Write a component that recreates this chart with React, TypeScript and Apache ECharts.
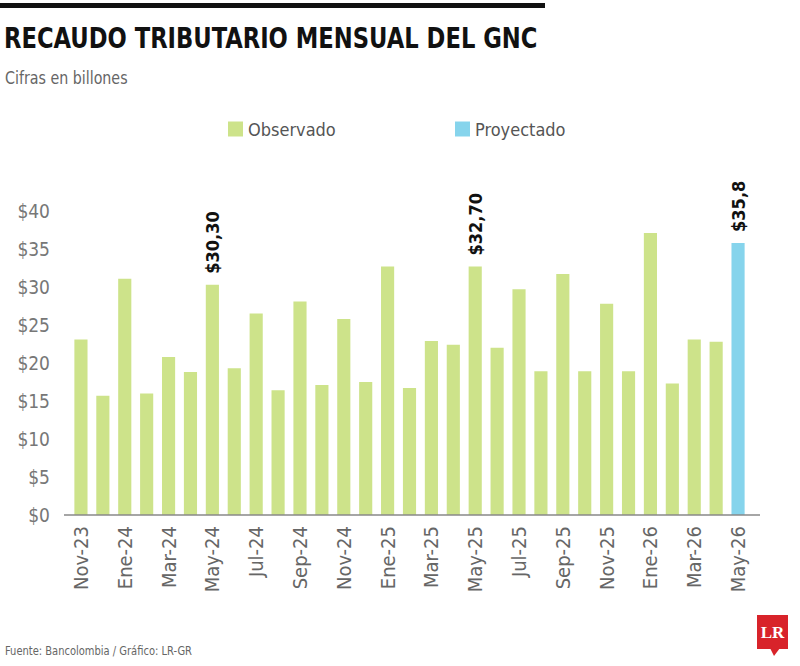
import React, { useEffect, useRef } from "react";
import * as echarts from "echarts";

const categories = [
  "Nov-23", "Dic-23", "Ene-24", "Feb-24", "Mar-24", "Abr-24", "May-24", "Jun-24",
  "Jul-24", "Ago-24", "Sep-24", "Oct-24", "Nov-24", "Dic-24", "Ene-25", "Feb-25",
  "Mar-25", "Abr-25", "May-25", "Jun-25", "Jul-25", "Ago-25", "Sep-25", "Oct-25",
  "Nov-25", "Dic-25", "Ene-26", "Feb-26", "Mar-26", "Abr-26", "May-26",
];

const observado: (number | null)[] = [
  23.1, 15.7, 31.1, 16.0, 20.8, 18.8, 30.3, 19.3,
  26.5, 16.4, 28.1, 17.1, 25.8, 17.5, 32.7, 16.7,
  22.9, 22.4, 32.7, 22.0, 29.7, 18.9, 31.7, 18.9,
  27.8, 18.9, 37.1, 17.3, 23.1, 22.8, null,
];

const proyectado: (number | null)[] = [
  null, null, null, null, null, null, null, null,
  null, null, null, null, null, null, null, null,
  null, null, null, null, null, null, null, null,
  null, null, null, null, null, null, 35.8,
];

const labeledObservado = ["May-24", "May-25"];
const labeledObservadoText = ["$30,30", "$32,70"];
const proyectadoLabel = "$35,8";

const yTicks = [0, 5, 10, 15, 20, 25, 30, 35, 40];

const FONT = '"DejaVu Sans Condensed", "Liberation Sans Narrow", sans-serif';
const GREEN = "#cde38a";
const BLUE = "#86d4ec";

export default function App() {
  const ref = useRef<HTMLDivElement>(null);

  useEffect(() => {
    if (!ref.current) return;
    const chart = echarts.init(ref.current, null, { renderer: "svg" });

    const obsData = observado.map((v, i) => {
      const li = labeledObservado.indexOf(categories[i]);
      if (li >= 0) {
        return {
          value: v,
          label: {
            show: true,
            formatter: labeledObservadoText[li],
          },
        };
      }
      return v;
    });
    const proData = proyectado.map((v) =>
      v == null ? v : { value: v, label: { show: true, formatter: proyectadoLabel } }
    );

    const barLabel = {
      show: false,
      position: "top",
      rotate: 90,
      align: "left",
      verticalAlign: "middle",
      distance: 11,
      color: "#111",
      fontFamily: FONT,
      fontWeight: "bold",
      fontSize: 18,
    };

    chart.setOption({
      animation: false,
      backgroundColor: "#ffffff",
      legend: [
        {
          data: ["Observado"],
          left: 223,
          top: 115,
          itemWidth: 15,
          itemHeight: 15,
          icon: "rect",
          itemGap: 6,
          textStyle: { fontFamily: FONT, fontSize: 18, color: "#555" },
        },
        {
          data: ["Proyectado"],
          left: 450,
          top: 115,
          itemWidth: 15,
          itemHeight: 15,
          icon: "rect",
          textStyle: { fontFamily: FONT, fontSize: 18, color: "#555" },
        },
      ],
      grid: { left: 70, right: 51, top: 211, bottom: 151, containLabel: false },
      xAxis: {
        type: "category",
        data: categories,
        axisLine: { show: false },
        axisTick: { show: false },
        axisLabel: {
          interval: 1,
          rotate: 90,
          margin: 11,
          fontFamily: FONT,
          fontSize: 20,
          color: "#666",
        },
      },
      yAxis: {
        type: "value",
        min: yTicks[0],
        max: yTicks[yTicks.length - 1],
        interval: 5,
        splitLine: { show: false },
        axisLine: { show: false },
        axisTick: { show: false },
        axisLabel: {
          margin: 20,
          fontFamily: FONT,
          fontSize: 19,
          color: "#777",
          formatter: (v: number) => "$" + v,
        },
      },
      series: [
        {
          name: "Observado",
          type: "bar",
          data: obsData,
          barWidth: "60%",
          barGap: "-100%",
          itemStyle: { color: GREEN },
          label: barLabel,
        },
        {
          name: "Proyectado",
          type: "bar",
          data: proData,
          barWidth: "60%",
          barGap: "-100%",
          itemStyle: { color: BLUE },
          label: barLabel,
        },
      ],
      graphic: [
        {
          type: "rect",
          shape: { x: 0, y: 3, width: 545, height: 5 },
          style: { fill: "#111" },
        },
        {
          type: "text",
          x: 4,
          y: 38,
          scaleX: 0.9,
          style: {
            text: "RECAUDO TRIBUTARIO MENSUAL DEL GNC",
            fill: "#111",
            font: 'bold 28px "DejaVu Sans Condensed", sans-serif',
            verticalAlign: "middle",
          },
        },
        {
          type: "text",
          x: 5,
          y: 78,
          scaleX: 0.88,
          style: {
            text: "Cifras en billones",
            fill: "#666",
            font: '18px "DejaVu Sans Condensed", sans-serif',
            verticalAlign: "middle",
          },
        },
        {
          type: "text",
          x: 5,
          y: 651,
          scaleX: 0.85,
          style: {
            text: "Fuente: Bancolombia / Gráfico: LR-GR",
            fill: "#666",
            font: '13px "DejaVu Sans Condensed", sans-serif',
            verticalAlign: "middle",
          },
        },
        {
          type: "line",
          shape: { x1: 64, y1: 515, x2: 760, y2: 515 },
          style: { stroke: "#888", lineWidth: 1.5 },
          z: 10,
        },
        {
          type: "rect",
          shape: { x: 757, y: 615, width: 31, height: 34 },
          style: { fill: "#d8232a" },
        },
        {
          type: "polygon",
          shape: { points: [[770, 648], [780, 648], [774, 656]] },
          style: { fill: "#d8232a" },
        },
        {
          type: "text",
          x: 772.5,
          y: 632,
          style: {
            text: "LR",
            fill: "#ffffff",
            font: 'bold 17px "Liberation Serif", "DejaVu Serif", serif',
            align: "center",
            verticalAlign: "middle",
          },
        },
      ],
    });

    return () => chart.dispose();
  }, []);

  return <div ref={ref} style={{ width: 800, height: 666, position: "absolute", left: 0, top: 0 }} />;
}
